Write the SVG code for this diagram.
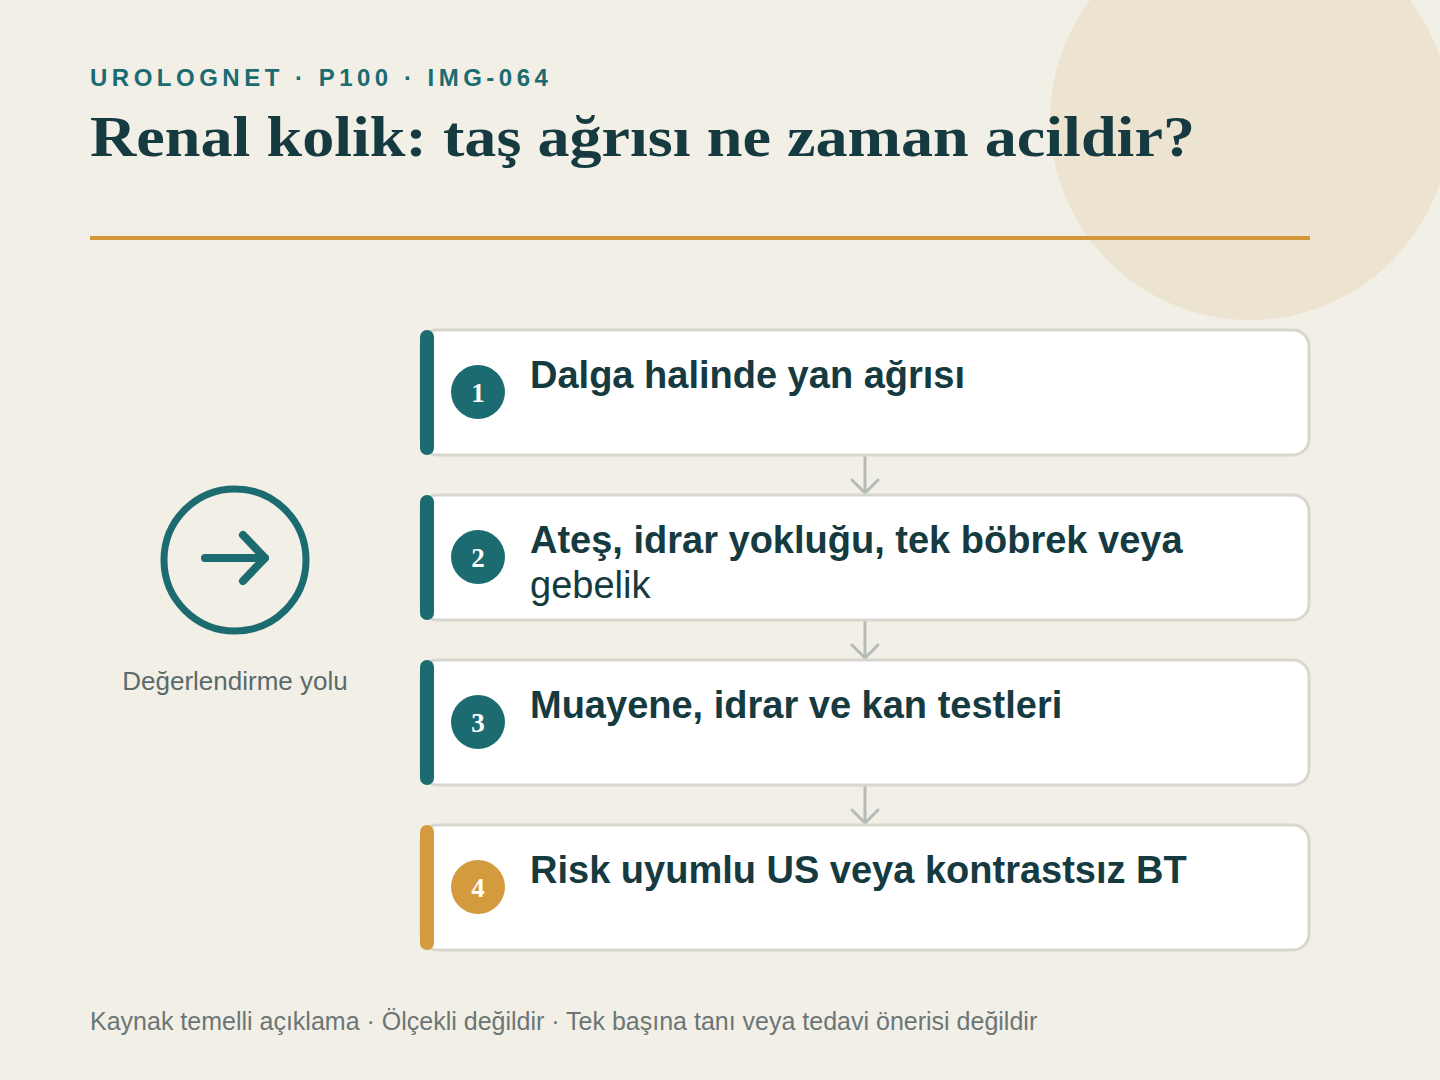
<svg xmlns="http://www.w3.org/2000/svg" width="1440" height="1080" viewBox="0 0 1440 1080">
<defs>
<style>
.eyebrow{font-family:"Liberation Sans",Arial,sans-serif;font-weight:700;font-size:24px;letter-spacing:4.5px;fill:#1b6b70}
.title{font-family:"Liberation Serif","DejaVu Serif",serif;font-weight:700;font-size:58px;fill:#153a40}
.card{fill:#ffffff;stroke:#d9d6cd;stroke-width:3}
.bar-teal{fill:#1b6b70}
.bar-gold{fill:#d49a3e}
.num{font-family:"Liberation Serif","DejaVu Serif",serif;font-weight:700;font-size:27px;fill:#ffffff;text-anchor:middle}
.head{font-family:"Liberation Sans",Arial,sans-serif;font-weight:700;font-size:38px;fill:#153a40}
.body{font-family:"Liberation Sans",Arial,sans-serif;font-size:38px;fill:#153a40}
.conn{stroke:#b5bcb7;stroke-width:3;fill:none;stroke-linecap:round;stroke-linejoin:round}
.label{font-family:"Liberation Sans",Arial,sans-serif;font-size:26px;fill:#5b6a6a;text-anchor:middle}
.foot{font-family:"Liberation Sans",Arial,sans-serif;font-size:25px;fill:#6b7675}
</style>
</defs>
<rect width="1440" height="1080" fill="#f2efe7"/>
<circle cx="1250" cy="120" r="200" fill="#ece3d1"/>
<g id="header">
<text class="eyebrow" x="90" y="86">UROLOGNET · P100 · IMG-064</text>
<text class="title" x="90" y="156" textLength="1105" lengthAdjust="spacingAndGlyphs">Renal kolik: taş ağrısı ne zaman acildir?</text>
<rect x="90" y="236" width="1220" height="4" fill="#d4963a"/>
</g>
<g id="icon">
<circle cx="235" cy="560" r="71" fill="none" stroke="#1b6b70" stroke-width="7"/>
<path d="M205 558 H265 M243 535 L265 558 L243 581" fill="none" stroke="#1b6b70" stroke-width="8" stroke-linecap="round" stroke-linejoin="round"/>
<text class="label" x="235" y="690">Değerlendirme yolu</text>
</g>
<g id="connectors">
<path class="conn" d="M865 456 V492 M852 480 L865 493 L878 480"/>
<path class="conn" d="M865 621 V657 M852 645 L865 658 L878 645"/>
<path class="conn" d="M865 786 V822 M852 810 L865 823 L878 810"/>
</g>
<g id="step1">
<rect class="card" x="421" y="330" width="888" height="125" rx="16"/>
<rect class="bar-teal" x="420" y="330" width="14" height="125" rx="7"/>
<circle cx="478" cy="392" r="27" fill="#1b6b70"/>
<text class="num" x="478" y="402">1</text>
<text class="head" x="530" y="388">Dalga halinde yan ağrısı</text>
</g>
<g id="step2">
<rect class="card" x="421" y="495" width="888" height="125" rx="16"/>
<rect class="bar-teal" x="420" y="495" width="14" height="125" rx="7"/>
<circle cx="478" cy="557" r="27" fill="#1b6b70"/>
<text class="num" x="478" y="567">2</text>
<text class="head" x="530" y="553">Ateş, idrar yokluğu, tek böbrek veya</text>
<text class="body" x="530" y="598">gebelik</text>
</g>
<g id="step3">
<rect class="card" x="421" y="660" width="888" height="125" rx="16"/>
<rect class="bar-teal" x="420" y="660" width="14" height="125" rx="7"/>
<circle cx="478" cy="722" r="27" fill="#1b6b70"/>
<text class="num" x="478" y="732">3</text>
<text class="head" x="530" y="718">Muayene, idrar ve kan testleri</text>
</g>
<g id="step4">
<rect class="card" x="421" y="825" width="888" height="125" rx="16"/>
<rect class="bar-gold" x="420" y="825" width="14" height="125" rx="7"/>
<circle cx="478" cy="887" r="27" fill="#d49a3e"/>
<text class="num" x="478" y="897">4</text>
<text class="head" x="530" y="883">Risk uyumlu US veya kontrastsız BT</text>
</g>
<text class="foot" x="90" y="1030">Kaynak temelli açıklama · Ölçekli değildir · Tek başına tanı veya tedavi önerisi değildir</text>
</svg>
